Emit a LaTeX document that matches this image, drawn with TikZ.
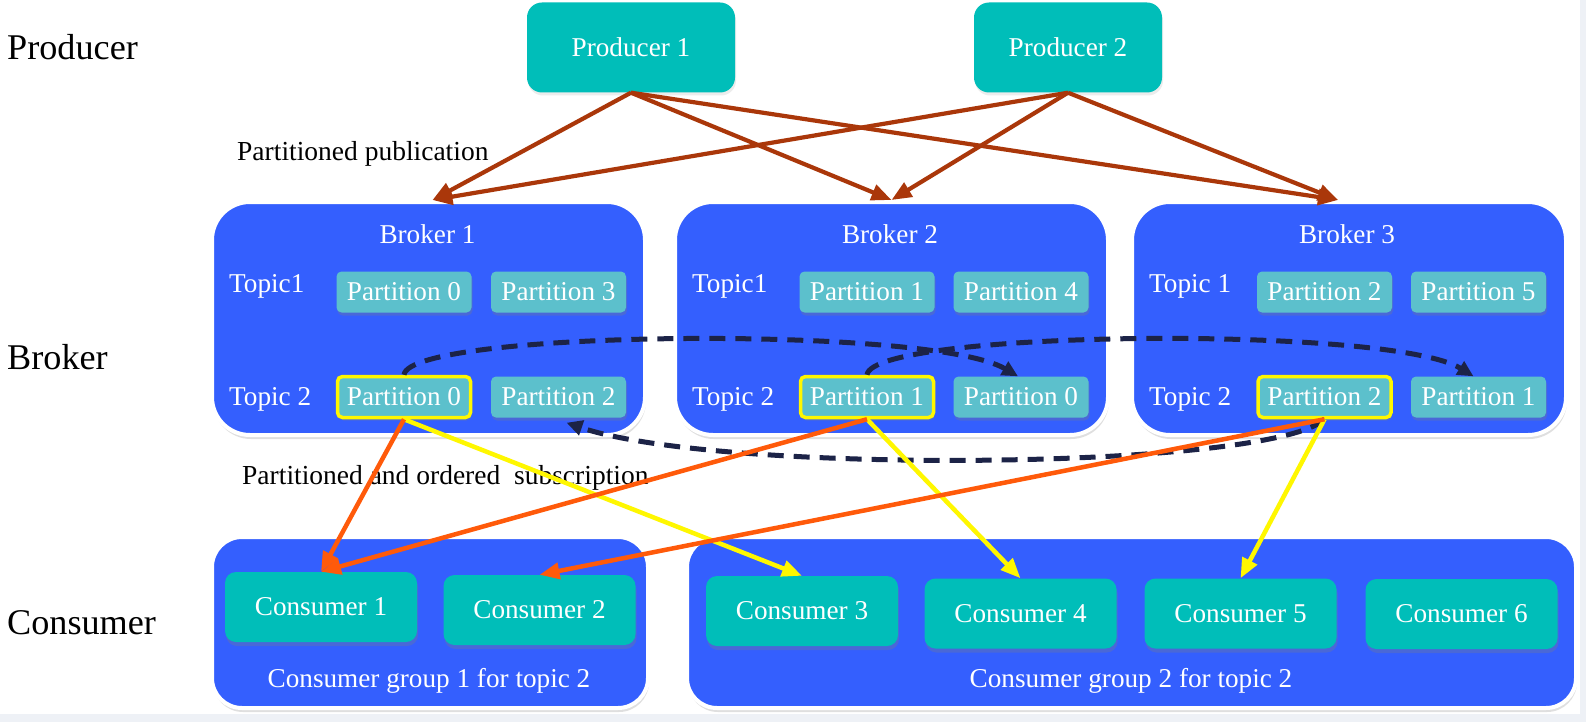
\documentclass[tikz,border=0pt]{standalone}
\usepackage{fontspec}
\setmainfont{Liberation Serif}
\usetikzlibrary{arrows.meta,shadows}
\definecolor{bblue}{HTML}{345FFE}
\definecolor{tealc}{HTML}{00BEB9}
\definecolor{partc}{HTML}{5CC0CC}
\definecolor{brn}{HTML}{AA370A}
\definecolor{orng}{HTML}{FF5A0A}
\definecolor{yel}{HTML}{FFF700}
\definecolor{navy}{HTML}{1C2347}
\definecolor{bgc}{HTML}{EEF1F6}
\begin{document}
\begin{tikzpicture}[x=1pt,y=-1pt,
  wt/.style={font=\fontsize{27.2}{30}\selectfont, text=white, inner sep=0pt},
  side/.style={font=\fontsize{36.2}{40}\selectfont, text=black, inner sep=0pt, anchor=base west},
  lbl/.style={font=\fontsize{27.5}{30}\selectfont, text=black, inner sep=0pt, anchor=base west},
  bigbox/.style={draw=white, line width=4pt, fill=bblue, rounded corners=38pt, minimum height=233pt,
     drop shadow={opacity=0.25, shadow xshift=1pt, shadow yshift=-4pt}},
  grpbox/.style={draw=white, line width=4pt, fill=bblue, rounded corners=30pt, minimum height=171pt,
     drop shadow={opacity=0.25, shadow xshift=1pt, shadow yshift=-4pt}},
  prodbox/.style={wt, fill=tealc, rounded corners=15pt, minimum height=90pt,
     drop shadow={opacity=0.15, shadow xshift=1pt, shadow yshift=-3pt}},
  consbox/.style={wt, fill=tealc, rounded corners=11pt, minimum width=192pt, minimum height=70pt,
     drop shadow={opacity=0.3, shadow xshift=1pt, shadow yshift=-4pt}},
  partbox/.style={wt, fill=partc, rounded corners=5pt, minimum width=135pt, minimum height=41pt,
     drop shadow={opacity=0.3, shadow xshift=1pt, shadow yshift=-3pt}},
  hipart/.style={partbox, draw=yel, line width=3.5pt, minimum width=133pt},
  prodarr/.style={draw=brn, line width=4.2pt, -{Triangle[length=20pt,width=16pt]}},
  orarr/.style={draw=orng, line width=4.5pt, -{Triangle[length=20pt,width=16pt]}},
  yearr/.style={draw=yel, line width=4.5pt, -{Triangle[length=20pt,width=16pt]}},
  dasharr/.style={draw=navy, line width=5pt, dash pattern=on 16pt off 10pt, -{Triangle[length=16pt,width=15pt]}}
]
\fill[bgc] (0,0) rectangle (1586,722);
\fill[white] (0,0) rectangle (1580,714);
\useasboundingbox (0,0) rectangle (1586,722);

% side labels
\node[side] (lprod) at (7,60) {Producer};
\node[side] (lbrok) at (7,369) {Broker};
\node[side] (lcons) at (7,634) {Consumer};
\node[lbl] (lpub) at (237,161) {Partitioned publication};
\node[lbl] (lsub) at (242,484) {Partitioned and ordered\ \ subscription};

% producers
\node[prodbox, minimum width=208pt] (p1) at (631,47.5) {Producer 1};
\node[prodbox, minimum width=188pt] (p2) at (1068,47.5) {Producer 2};

% brokers
\node[bigbox, minimum width=433pt] (b1) at (428.5,318.5) {};
\node[bigbox, minimum width=433pt] (b2) at (891.5,318.5) {};
\node[bigbox, minimum width=434pt] (b3) at (1349,318.5) {};
\node[wt, anchor=base] (b1n) at (427.5,243) {Broker 1};
\node[wt, anchor=base] (b2n) at (890,243) {Broker 2};
\node[wt, anchor=base] (b3n) at (1347,243) {Broker 3};
\node[wt, anchor=base west] (b1ta) at (229,292) {Topic1};
\node[wt, anchor=base west] (b1tb) at (229,405) {Topic 2};
\node[wt, anchor=base west] (b2ta) at (692,292) {Topic1};
\node[wt, anchor=base west] (b2tb) at (692,405) {Topic 2};
\node[wt, anchor=base west] (b3ta) at (1149,292) {Topic 1};
\node[wt, anchor=base west] (b3tb) at (1149,405) {Topic 2};

\node[partbox] (b1p0) at (404,292) {Partition 0};
\node[partbox] (b1p3) at (558.5,292) {Partition 3};
\node[hipart]  (b1q0) at (404,397) {Partition 0};
\node[partbox] (b1q2) at (558.5,397) {Partition 2};

\node[partbox] (b2p1) at (867,292) {Partition 1};
\node[partbox] (b2p4) at (1021,292) {Partition 4};
\node[hipart]  (b2q1) at (867,397) {Partition 1};
\node[partbox] (b2q0) at (1021,397) {Partition 0};

\node[partbox] (b3p2) at (1324.5,292) {Partition 2};
\node[partbox] (b3p5) at (1478.5,292) {Partition 5};
\node[hipart]  (b3q2) at (1324.5,397) {Partition 2};
\node[partbox] (b3q1) at (1478.5,397) {Partition 1};

% consumer groups
\node[grpbox, minimum width=436pt] (g1) at (430,622.5) {};
\node[grpbox, minimum width=889pt] (g2) at (1131.5,622.5) {};
\node[wt, anchor=base] (g1n) at (429,687) {Consumer group 1 for topic 2};
\node[wt, anchor=base] (g2n) at (1131,687) {Consumer group 2 for topic 2};

\node[consbox] (c1) at (321,607) {Consumer 1};
\node[consbox] (c2) at (539.5,610) {Consumer 2};
\node[consbox] (c3) at (802,611) {Consumer 3};
\node[consbox] (c4) at (1020.5,613.5) {Consumer 4};
\node[consbox] (c5) at (1240.5,613.5) {Consumer 5};
\node[consbox] (c6) at (1461.5,614) {Consumer 6};

% producer arrows
\coordinate (b1in) at ([xshift=4pt]b1.north);
\coordinate (b3in) at ([xshift=-11pt]b3.north);
\draw[prodarr] (p1.south) -- (b1in);
\draw[prodarr] (p1.south) -- (b2.north);
\draw[prodarr] (p1.south) -- (b3in);
\draw[prodarr] (p2.south) -- (b1in);
\draw[prodarr] (p2.south) -- (b2.north);
\draw[prodarr] (p2.south) -- (b3in);

% replication (dashed)
\coordinate (q2end) at ([xshift=8pt,yshift=-5pt]b1q2.south);
\draw[dasharr] (b1q0.north) .. controls (410,330) and (930,325) .. ([xshift=-3pt]b2q0.north);
\draw[dasharr] (b2q1.north) .. controls (873,330) and (1390,325) .. ([xshift=-5pt]b3q1.north);
\draw[dasharr] (b3q2.south) .. controls (1270,470) and (720,475) .. (q2end);

% subscriptions
\draw[yearr] (b1q0.south) -- (c3.north);
\draw[yearr] (b2q1.south) -- (c4.north);
\draw[yearr] (b3q2.south) -- (c5.north);
\draw[orarr] (b1q0.south) -- (c1.north);
\draw[orarr] (b2q1.south) -- (c1.north);
\draw[orarr] (b3q2.south) -- (c2.north);
\end{tikzpicture}
\end{document}
